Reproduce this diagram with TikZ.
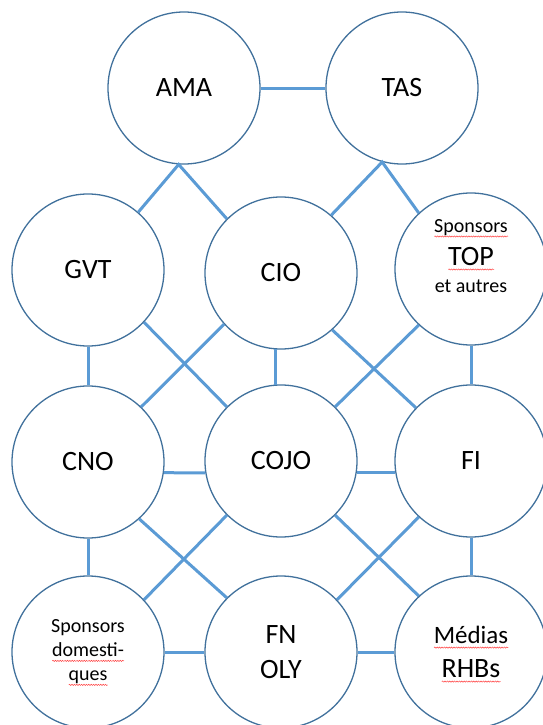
\documentclass[tikz,border=0pt]{standalone}
\usepackage{fontspec}
\setmainfont{Carlito}
\usetikzlibrary{decorations.pathmorphing}
\definecolor{ringblue}{HTML}{41719C}
\definecolor{linkblue}{HTML}{5B9BD5}
% spell-check wave under a word
\newcommand\spell[1]{\begingroup\setbox0\hbox{#1}%
  \rlap{\smash{\tikz[x=1pt,y=1pt,baseline=0pt]\draw[red!75,line width=0.5pt,decorate,
    decoration={snake,amplitude=0.6pt,segment length=2.4pt}] (0,-4) -- (\wd0,-4);}}%
  \usebox0\endgroup}
\begin{document}
\begin{tikzpicture}[x=1pt,y=-1pt]
\tikzset{
  actor/.style={draw=ringblue,line width=1.3pt,shape=circle,minimum size=152pt,inner sep=0pt,
    align=center,font=\fontsize{28}{34}\selectfont},
  small/.style={font=\fontsize{20}{#1}\selectfont},
  link/.style={draw=linkblue,line width=3pt}
}
\useasboundingbox (0,0) rectangle (543,725);
% circles
\node[actor] (ama) at (184,88) {AMA};
\node[actor] (tas) at (402,88) {TAS};
\node[actor] (gvt) at (88,270) {GVT};
\node[actor] (cio) at (281,273) {CIO};
\node[actor,small=27,text depth=26pt] (top) at (471,269) {\spell{Sponsors}\\[6pt]
  \fontsize{28}{30}\selectfont\spell{TOP}\\ \fontsize{20}{27}\selectfont et autres};
\node[actor] (cno) at (88,462) {CNO};
\node[actor] (cojo) at (281,461) {COJO};
\node[actor] (fi) at (471,461) {FI};
\node[actor,small=24] (spd) at (88,652) {Sponsors\\\spell{domesti-}\\\spell{ques}};
\node[actor] (fn) at (281,652) {FN\\[1pt]OLY};
\node[actor] (med) at (471,652) {\fontsize{25}{30}\selectfont\spell{Médias}\\
  \fontsize{28}{34}\selectfont\spell{RHBs}};
% links
\draw[link] (ama.east) -- (tas.west);
\draw[link] (gvt.49) -- (ama.-94) -- (cio.135);
\draw[link] (cio.49) -- (tas.-105) -- (top.133);
\draw[link] (gvt.south) -- (cno.north);
\draw[link] (gvt.-43) -- (cojo.135);
\draw[link] (cio.-138) -- (cno.46);
\draw[link] (cio.-94) -- (cojo.94);
\draw[link] (cio.-48) -- (fi.136);
\draw[link] (top.-133) -- (cojo.45);
\draw[link] (top.south) -- (fi.north);
\draw[link] (cno.-8) -- (cojo.-171);
\draw[link] (cojo.-9) -- (fi.-171);
\draw[link] (cno.south) -- (spd.north);
\draw[link] (cno.-48) -- (fn.135);
\draw[link] (cojo.-135) -- (spd.43);
\draw[link] (cojo.-45) -- (med.133);
\draw[link] (fi.-133) -- (fn.43);
\draw[link] (fi.south) -- (med.north);
\draw[link] (spd.east) -- (fn.west);
\draw[link] (fn.east) -- (med.west);
\end{tikzpicture}
\end{document}
